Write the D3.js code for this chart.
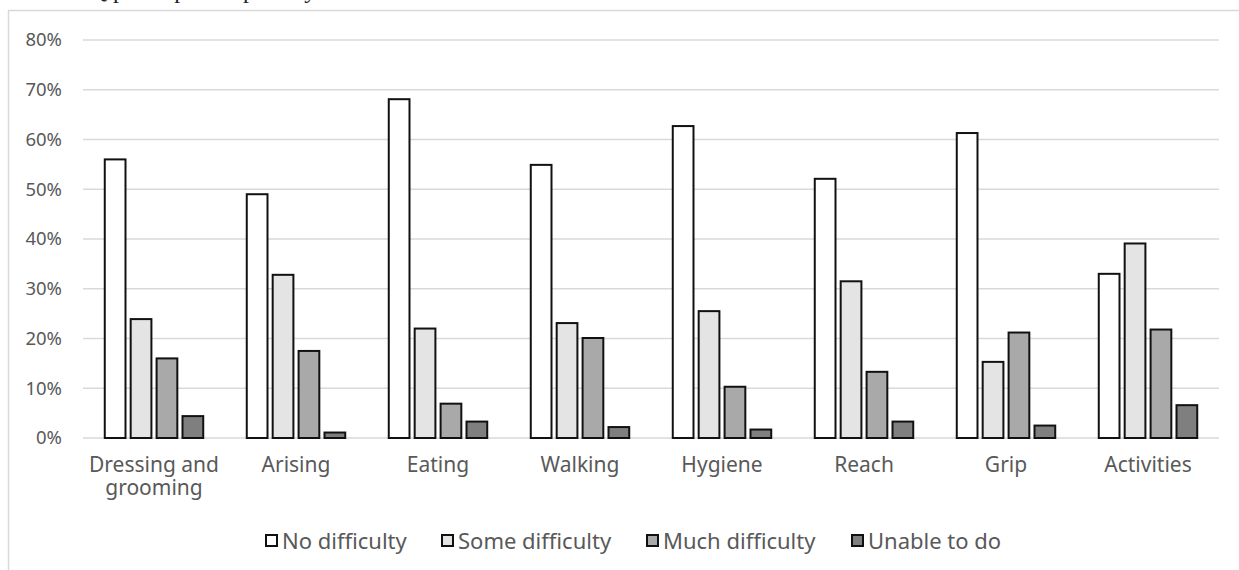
<!DOCTYPE html>
<html><head><meta charset="utf-8">
<script src="https://cdn.jsdelivr.net/npm/d3@7"></script>
<style>
html,body{margin:0;padding:0;background:#fff;overflow:hidden;}
</style></head>
<body>
<svg id="chart" width="1239" height="570"></svg>
<script>
const categories = ["Dressing and grooming","Arising","Eating","Walking","Hygiene","Reach","Grip","Activities"];
const seriesNames = ["No difficulty","Some difficulty","Much difficulty","Unable to do"];
const noDifficulty   = [56.0, 49.0, 68.1, 54.9, 62.7, 52.1, 61.3, 33.0];
const someDifficulty = [23.9, 32.8, 22.0, 23.1, 25.5, 31.5, 15.3, 39.1];
const muchDifficulty = [16.0, 17.5, 6.9, 20.1, 10.3, 13.3, 21.2, 21.8];
const unableToDo     = [4.4, 1.1, 3.3, 2.2, 1.7, 3.3, 2.5, 6.6];
const yTicks = [0,10,20,30,40,50,60,70,80];
const seriesValues = [noDifficulty, someDifficulty, muchDifficulty, unableToDo];
const colors = ["#ffffff","#e4e4e4","#a9a9a9","#7f7f7f"];

(function(){
const svg = d3.select("#chart");
const font = "'Noto Sans', sans-serif";
const textColor = "#595959";

// clipped title remnant (only descenders visible at the top edge)
svg.append("text").attr("x", 55).attr("y", -2)
  .attr("font-family","'Liberation Serif', serif").attr("font-size", 24)
  .attr("fill","#222").text("HAQ participant capability");

// outer frame
svg.append("path").attr("d","M8.5,570 V10.5 H1239")
  .attr("fill","none").attr("stroke","#d9d9d9").attr("stroke-width",1.5);

const mLeft = 83, mRight = 1219, mTop = 40, mBottom = 438;
const x = d3.scaleBand().domain(categories).range([mLeft, mRight]).paddingInner(0).paddingOuter(0);
const y = d3.scaleLinear().domain([0, 80]).range([mBottom, mTop]);

// gridlines
svg.append("g").selectAll("line").data(yTicks).join("line")
  .attr("x1", mLeft).attr("x2", mRight)
  .attr("y1", d => y(d)).attr("y2", d => y(d))
  .attr("stroke","#d9d9d9").attr("stroke-width",1.5);

// y axis labels
const yAxis = d3.axisLeft(y).tickValues(yTicks).tickFormat(d => d + "%").tickSize(0).tickPadding(0);
const yg = svg.append("g").attr("transform", `translate(${62},0)`).call(yAxis);
yg.select(".domain").remove();
yg.selectAll("text").attr("font-family", font).attr("font-size", 18.5).attr("fill", textColor);

// bars
const inner = d3.scaleBand().domain(d3.range(4)).range([0, x.bandwidth()]).paddingInner(0.2).paddingOuter(0.84);
const barData = [];
categories.forEach((c, i) => seriesValues.forEach((s, j) => barData.push({c, j, v: s[i]})));
svg.append("g").selectAll("rect").data(barData).join("rect")
  .attr("x", d => x(d.c) + inner(d.j))
  .attr("y", d => y(d.v))
  .attr("width", inner.bandwidth())
  .attr("height", d => y(0) - y(d.v))
  .attr("fill", d => colors[d.j])
  .attr("stroke", "#111").attr("stroke-width", 2);

// category labels
const xl = svg.append("g");
categories.forEach(c => {
  const t = xl.append("text").attr("text-anchor","middle")
    .attr("font-family", font).attr("font-size", 21).attr("fill", textColor);
  const lines = c === "Dressing and grooming" ? ["Dressing and","grooming"] : [c];
  lines.forEach((l, k) => t.append("tspan").attr("x", x(c) + x.bandwidth()/2).attr("y", 472 + k*23).text(l));
});

// legend
const legendX = [265, 441, 646, 851];
const lg = svg.append("g");
seriesNames.forEach((n, j) => {
  lg.append("rect").attr("x", legendX[j]+1).attr("y", 535).attr("width", 11).attr("height", 11)
    .attr("fill", colors[j]).attr("stroke","#111").attr("stroke-width",2);
  lg.append("text").attr("x", legendX[j] + 17).attr("y", 549)
    .attr("font-family", font).attr("font-size", 22).attr("fill", textColor).text(n);
});
})();
</script>
</body></html>
